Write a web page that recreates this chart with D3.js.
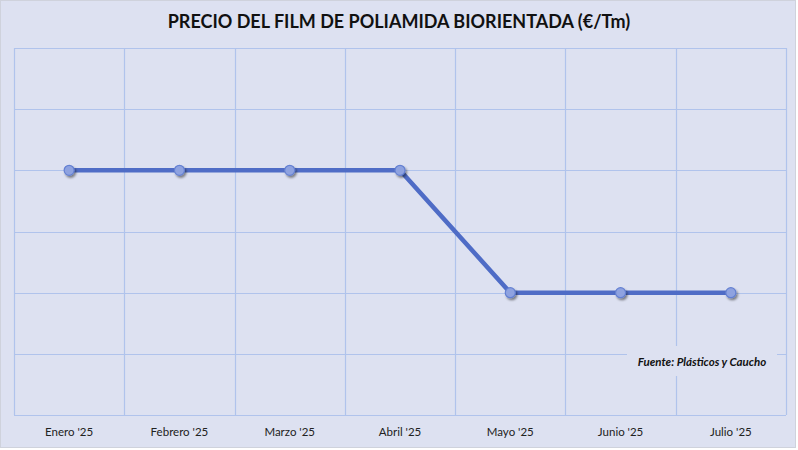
<!DOCTYPE html>
<html>
<head>
<meta charset="utf-8">
<script src="https://cdn.jsdelivr.net/npm/d3@7"></script>
<style>
  html, body { margin: 0; padding: 0; background: #fff; }
  svg { display: block; font-family: Lato, "Open Sans", sans-serif; }
</style>
</head>
<body>
<div id="chart"></div>
<script>
const months = ['Enero \'25', 'Febrero \'25', 'Marzo \'25', 'Abril \'25', 'Mayo \'25', 'Junio \'25', 'Julio \'25'];
const prices = [4050, 4050, 4050, 4050, 3950, 3950, 3950];
const yTicks = [3850, 3900, 3950, 4000, 4050, 4100, 4150];

const width = 798, height = 450;
const margin = { top: 48, right: 12, bottom: 35, left: 14 };

const svg = d3.select('#chart').append('svg')
  .attr('width', width)
  .attr('height', height);

const defs = svg.append('defs');
const shadow = defs.append('filter').attr('id', 'shadow')
  .attr('x', '-50%').attr('y', '-50%').attr('width', '200%').attr('height', '200%');
shadow.append('feDropShadow')
  .attr('dx', 1.5).attr('dy', 2).attr('stdDeviation', 1.3)
  .attr('flood-color', '#000').attr('flood-opacity', 0.45);

// background
svg.append('rect')
  .attr('x', 0.5).attr('y', 0.5)
  .attr('width', width - 3).attr('height', height - 3)
  .attr('fill', '#dde1f1')
  .attr('stroke', '#cfd2dc');

svg.append('text')
  .attr('x', 399).attr('y', 28)
  .attr('text-anchor', 'middle')
  .attr('font-size', 18)
  .attr('font-weight', 'bold')
  .attr('fill', '#111')
  .text('PRECIO DEL FILM DE POLIAMIDA BIORIENTADA (€/Tm)');

const x = d3.scaleBand()
  .domain(months)
  .range([margin.left, width - margin.right]);

const y = d3.scaleLinear()
  .domain([3850, 4150])
  .range([height - margin.bottom, margin.top]);

const grid = svg.append('g').attr('stroke', '#b0c3ec').attr('stroke-width', 1.2);

grid.selectAll('line.h')
  .data(yTicks)
  .join('line')
  .attr('class', 'h')
  .attr('x1', margin.left).attr('x2', width - margin.right)
  .attr('y1', d => Math.round(y(d)) + 0.5).attr('y2', d => Math.round(y(d)) + 0.5);

const xEdges = months.map(m => x(m)).concat([x.range()[1]]);
grid.selectAll('line.v')
  .data(xEdges)
  .join('line')
  .attr('class', 'v')
  .attr('x1', d => Math.round(d) + 0.5).attr('x2', d => Math.round(d) + 0.5)
  .attr('y1', margin.top).attr('y2', height - margin.bottom);

// x axis labels
const xAxis = d3.axisBottom(x).tickSize(0).tickPadding(13);
svg.append('g')
  .attr('transform', `translate(0,${height - margin.bottom})`)
  .call(xAxis)
  .call(g => g.select('.domain').remove())
  .call(g => g.selectAll('text')
    .attr('font-family', 'Lato, "Open Sans", sans-serif')
    .attr('font-size', 11.5)
    .attr('fill', '#222'));

// source label box
const src = svg.append('g');
src.append('rect')
  .attr('x', 627).attr('y', 346)
  .attr('width', 150).attr('height', 30)
  .attr('fill', '#dde1f1');
src.append('text')
  .attr('x', 702).attr('y', 366)
  .attr('text-anchor', 'middle')
  .attr('font-size', 11.5)
  .attr('font-weight', 'bold')
  .attr('font-style', 'italic')
  .attr('fill', '#111')
  .text('Fuente: Plásticos y Caucho');

const data = months.map((m, i) => ({ month: m, price: prices[i] }));
const cx = d => x(d.month) + x.bandwidth() / 2;

const line = d3.line().x(cx).y(d => y(d.price));

svg.append('path')
  .datum(data)
  .attr('d', line)
  .attr('fill', 'none')
  .attr('stroke', '#4f6cc6')
  .attr('stroke-width', 4.5)
  .attr('stroke-linejoin', 'round');

svg.append('g')
  .selectAll('circle')
  .data(data)
  .join('circle')
  .attr('cx', cx)
  .attr('cy', d => y(d.price))
  .attr('r', 5)
  .attr('fill', '#8ea2e0')
  .attr('stroke', '#6480d2')
  .attr('stroke-width', 1.2)
  .attr('filter', 'url(#shadow)');
</script>
</body>
</html>
